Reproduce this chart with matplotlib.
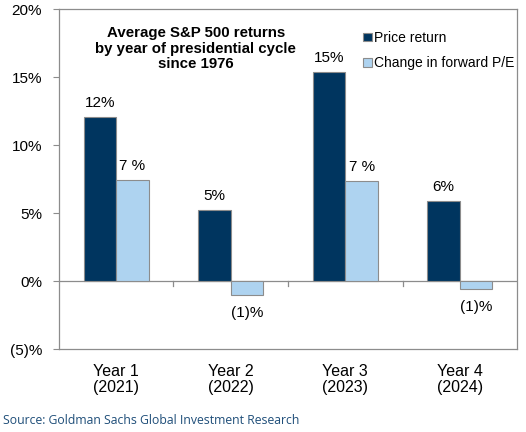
import numpy as np
import matplotlib.pyplot as plt

# values (%)
years = ['Year 1\n(2021)', 'Year 2\n(2022)', 'Year 3\n(2023)', 'Year 4\n(2024)']
price_return = [12.1, 5.2, 15.4, 5.9]
pe_change = [7.4, -1.0, 7.35, -0.6]
yticks = [-5, 0, 5, 10, 15, 20]

dark = '#00355F'
light = '#AED3F0'
edge = '#8C8C8C'

plt.rcParams['font.family'] = ['Liberation Sans', 'DejaVu Sans']

fig = plt.figure(figsize=(5.26, 4.32), dpi=100)
ax = fig.add_axes([0.112, 0.192, 0.871, 0.787])

x = np.arange(len(years))
w = 0.285
b1 = ax.bar(x - w / 2, price_return, w, color=dark, edgecolor=edge, linewidth=0.8,
            label='Price return', zorder=2)
b2 = ax.bar(x + w / 2, pe_change, w, color=light, edgecolor=edge, linewidth=0.8,
            label='Change in forward P/E', zorder=2)

def pct(v):
    return f'({abs(v):.0f})%' if v < 0 else f'{v:.0f}%'

for rect, v in zip(b1, price_return):
    ax.annotate(pct(v), (rect.get_x() + rect.get_width() / 2, v), xytext=(0, 5),
                textcoords='offset points', ha='center', va='bottom', fontsize=11)
for rect, v in zip(b2, pe_change):
    if v >= 0:
        ax.annotate(f'{v:.0f} %', (rect.get_x() + rect.get_width() / 2, v), xytext=(0, 5),
                    textcoords='offset points', ha='center', va='bottom', fontsize=11)
    else:
        ax.annotate(pct(v), (rect.get_x() + rect.get_width() / 2, v), xytext=(0, -8),
                    textcoords='offset points', ha='center', va='top', fontsize=11)

ax.set_xlim(-0.5, len(years) - 0.5)
ax.set_ylim(-5, 20)
ax.set_yticks(yticks)
ax.set_yticklabels([pct(t) for t in yticks], fontsize=11)
ax.tick_params(axis='y', direction='out', length=4, color=edge, pad=8)

# category labels, with separator ticks hanging off the zero line
ax.set_xticks(x)
ax.set_xticklabels(years, fontsize=11.5, linespacing=1.05)
ax.tick_params(axis='x', length=0, pad=11)
ax.axhline(0, color=edge, linewidth=0.9, zorder=1)
for sep in x[:-1] + 0.5:
    ax.plot([sep, sep], [0, -0.35], color=edge, linewidth=0.9, zorder=1)

for s in ax.spines.values():
    s.set_color(edge)
    s.set_linewidth(0.9)

ax.text(0.299, 0.884, 'Average S&P 500 returns\nby year of presidential cycle\nsince 1976',
        transform=ax.transAxes, ha='center', va='center', fontsize=10.8, fontweight='bold',
        linespacing=1.1)

ax.legend(loc='upper left', bbox_to_anchor=(0.652, 0.952), frameon=False, fontsize=10,
          handlelength=0.6, handleheight=0.6, handletextpad=0.15, labelspacing=0.8,
          borderaxespad=0)

fig.text(0.006, 0.012, 'Source: Goldman Sachs Global Investment Research',
         fontsize=8.8, color='#1F4E79', family='Open Sans', ha='left', va='bottom')

fig.savefig('out.png', dpi=100)
